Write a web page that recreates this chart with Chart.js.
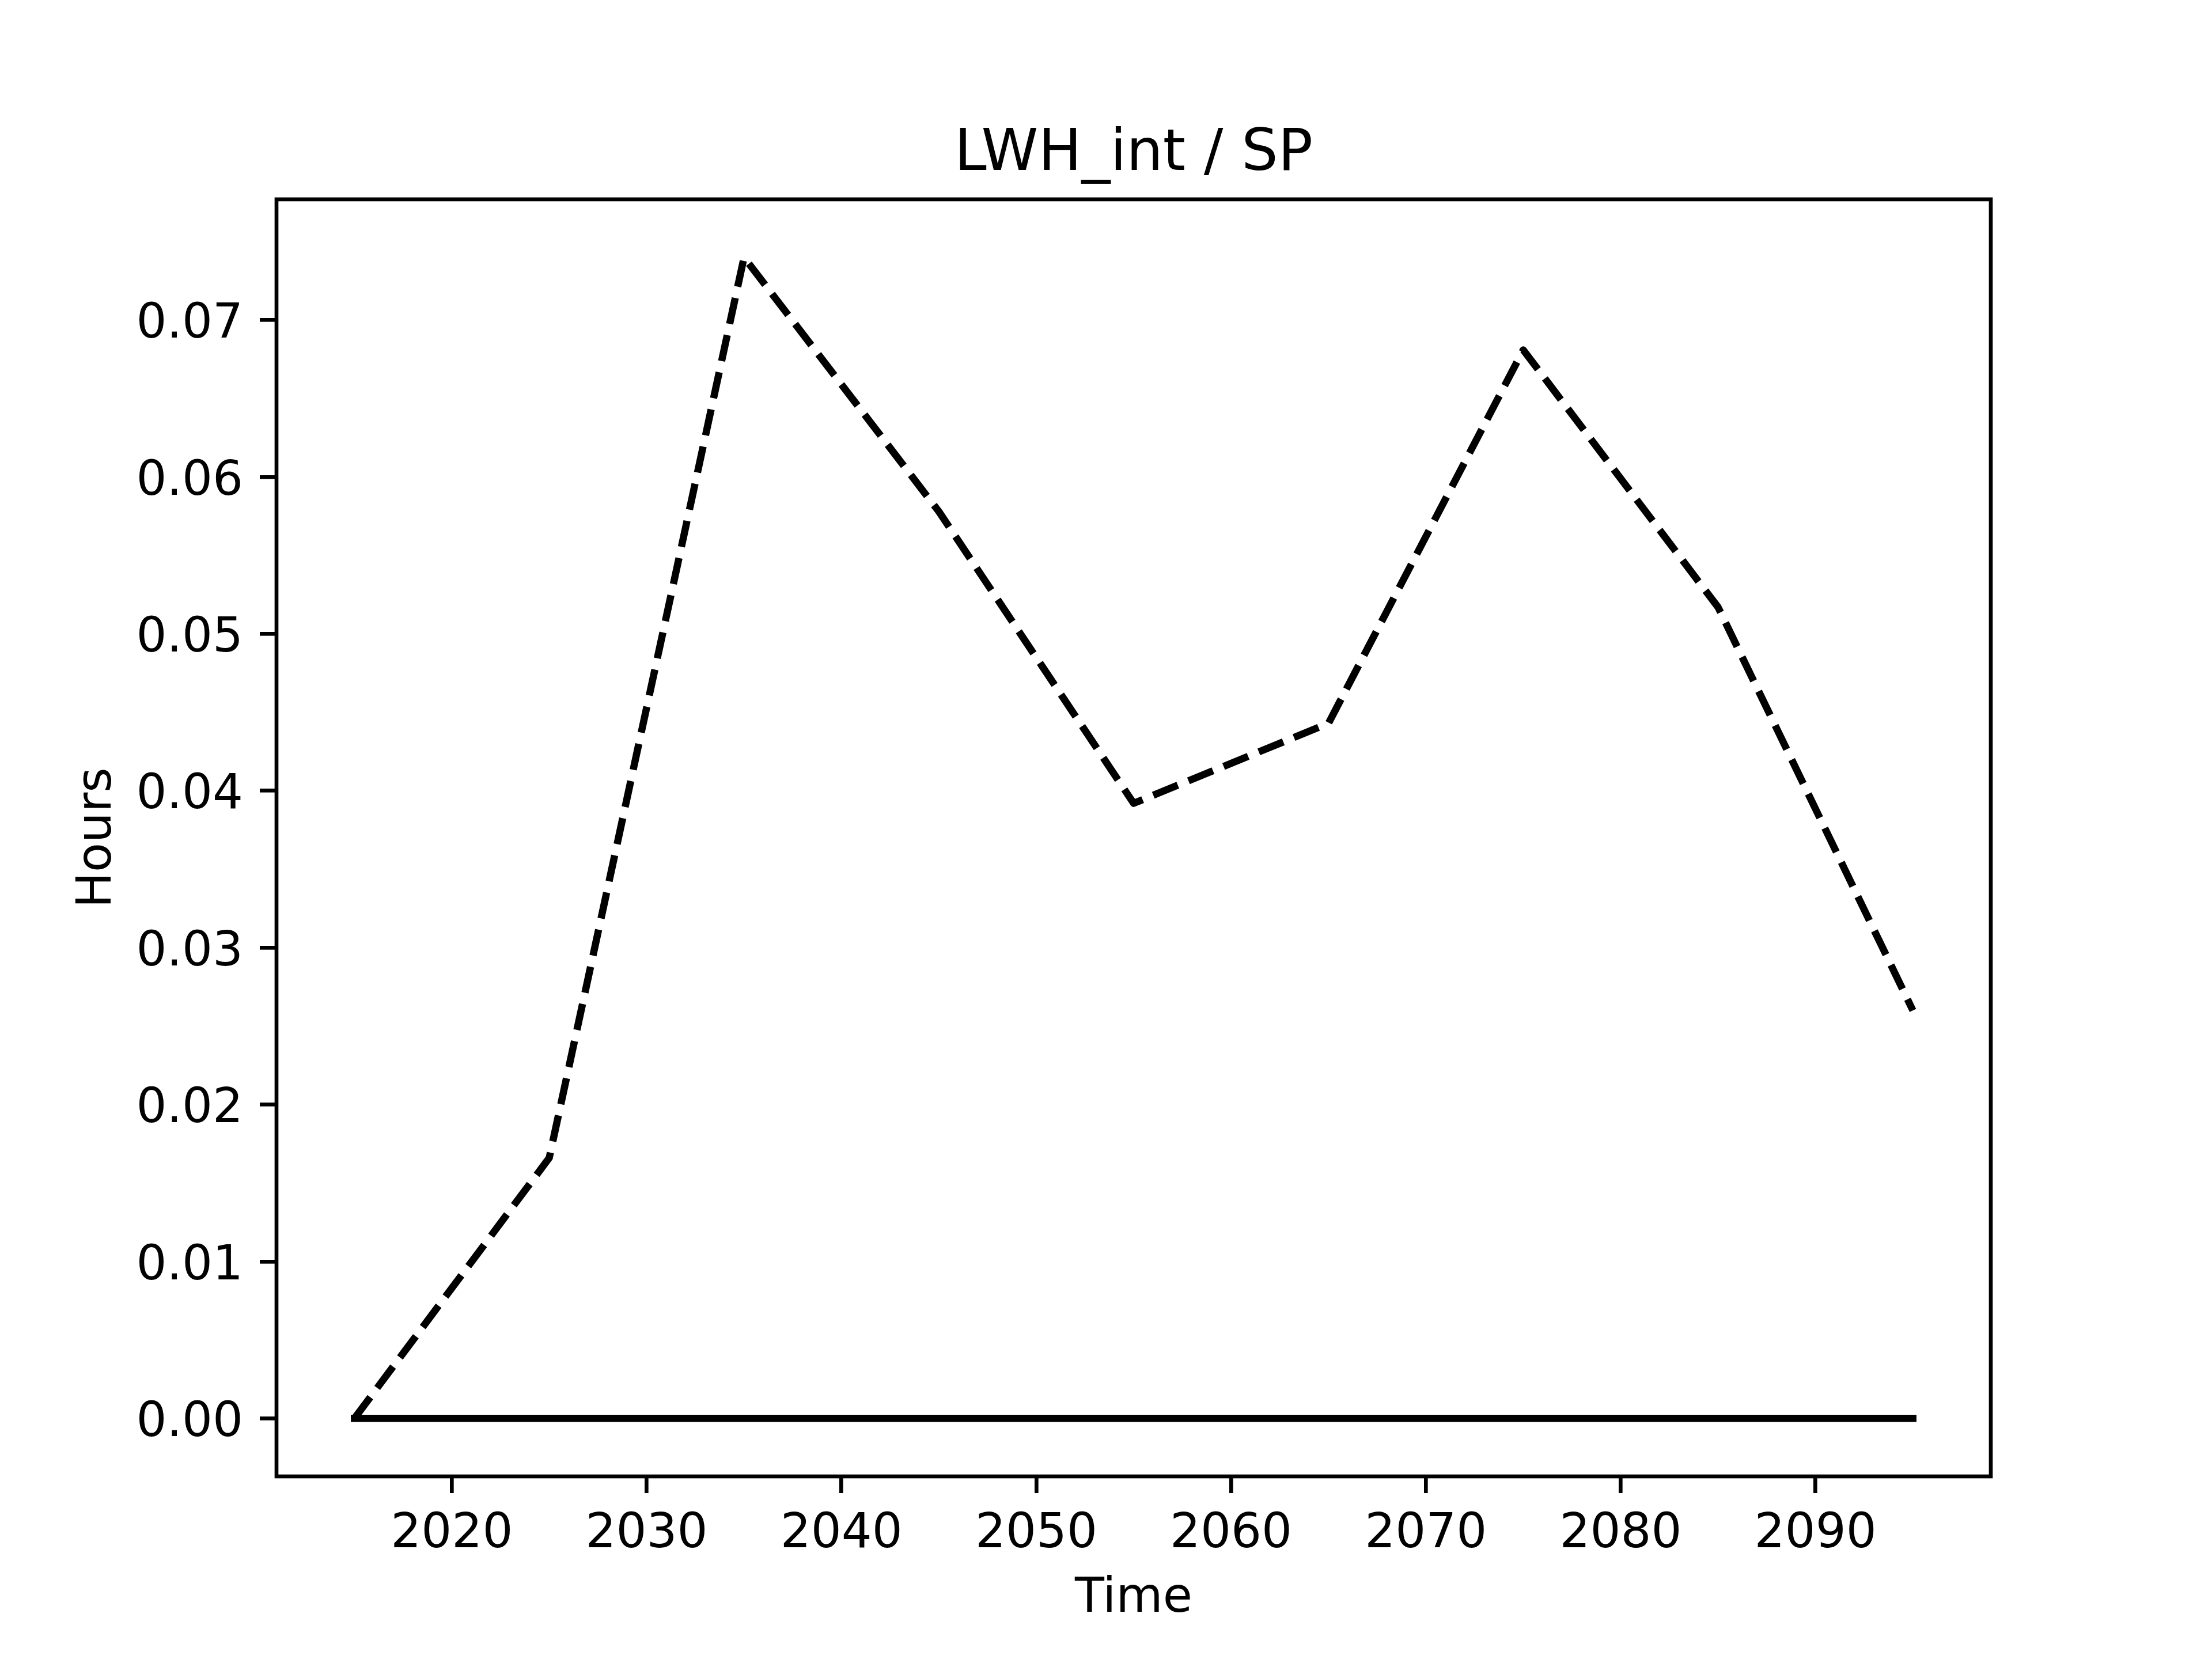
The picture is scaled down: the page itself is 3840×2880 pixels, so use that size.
<!DOCTYPE html>
<html><head><meta charset="utf-8">
<script src="https://cdn.jsdelivr.net/npm/chart.js@4/dist/chart.umd.min.js"></script>
<style>html,body{margin:0;padding:0;background:#fff}#wrap{width:3840px;height:2880px}</style>
</head><body><div id="wrap"><canvas id="c" width="3840" height="2880"></canvas></div>
<script>
const years = [2015, 2025, 2035, 2045, 2055, 2065, 2075, 2085, 2095];
const dashedValues = [0, 0.0166, 0.0740, 0.0578, 0.0392, 0.0443, 0.0681, 0.0517, 0.0260];
const solidValues = [0, 0, 0, 0, 0, 0, 0, 0, 0];
const xTickValues = [2020, 2030, 2040, 2050, 2060, 2070, 2080, 2090];
const xTickLabels = ['2020', '2030', '2040', '2050', '2060', '2070', '2080', '2090'];
const yTickValues = [0, 0.01, 0.02, 0.03, 0.04, 0.05, 0.06, 0.07];
const yTickLabels = ['0.00', '0.01', '0.02', '0.03', '0.04', '0.05', '0.06', '0.07'];
const titleText = 'LWH_int / SP';
const xTitleText = 'Time';
const yTitleText = 'Hours';

// matplotlib-like 5% margins around the data
const allY = dashedValues.concat(solidValues);
const xMinD = Math.min(...years), xMaxD = Math.max(...years);
const yMinD = Math.min(...allY), yMaxD = Math.max(...allY);
const xPad = (xMaxD - xMinD) * 0.05, yPad = (yMaxD - yMinD) * 0.05;

Chart.defaults.font.family = "'DejaVu Sans'";
Chart.defaults.color = '#000';

const FONT = 83.33;
const LW = 12.5;
const SPINE = 6.67;
const TICKLEN = 29;

const frame = {
  id: 'frame',
  afterDraw(chart) {
    const {ctx, chartArea: a} = chart;
    ctx.save();
    ctx.strokeStyle = '#000';
    ctx.lineWidth = SPINE;
    ctx.strokeRect(a.left, a.top, a.right - a.left, a.bottom - a.top);
    ctx.restore();
  }
};

new Chart(document.getElementById('c'), {
  type: 'line',
  data: {
    datasets: [
      {
        data: years.map((x, i) => ({x, y: dashedValues[i]})),
        borderColor: '#000', borderWidth: LW, borderDash: [46, 20],
        borderCapStyle: 'butt', borderJoinStyle: 'round',
        pointRadius: 0, fill: false, tension: 0
      },
      {
        data: years.map((x, i) => ({x, y: solidValues[i]})),
        borderColor: '#000', borderWidth: LW,
        borderCapStyle: 'square', borderJoinStyle: 'round',
        pointRadius: 0, fill: false, tension: 0
      }
    ]
  },
  options: {
    responsive: false, devicePixelRatio: 1, animation: false,
    layout: {padding: {left: 0, right: 384, top: 0, bottom: 0}},
    plugins: {
      legend: {display: false}, tooltip: {enabled: false},
      title: {display: true, fullSize: false, text: titleText, font: {size: 100, weight: 'normal'}, color: '#000', padding: {top: 209, bottom: 17}}
    },
    scales: {
      x: {
        type: 'linear', min: xMinD - xPad, max: xMaxD + xPad,
        afterBuildTicks: s => { s.ticks = xTickValues.map(v => ({value: v})); },
        afterFit: s => { s.height = 317; },
        ticks: {font: {size: FONT}, color: '#000', padding: 22, maxRotation: 0, autoSkip: false,
          callback: (v, i) => xTickLabels[i]},
        grid: {display: true, drawOnChartArea: false, drawTicks: true, tickLength: TICKLEN, tickWidth: SPINE, tickColor: '#000', lineWidth: SPINE, color: '#000'},
        border: {display: false},
        title: {display: true, text: xTitleText, font: {size: FONT}, color: '#000', padding: {top: 0, bottom: 54}}
      },
      y: {
        type: 'linear', min: yMinD - yPad, max: yMaxD + yPad,
        afterBuildTicks: s => { s.ticks = yTickValues.map(v => ({value: v})); },
        afterFit: s => { s.width = 480; },
        ticks: {font: {size: FONT}, color: '#000', padding: 29, labelOffset: 9, autoSkip: false,
          callback: (v, i) => yTickLabels[i]},
        grid: {display: true, drawOnChartArea: false, drawTicks: true, tickLength: TICKLEN, tickWidth: SPINE, tickColor: '#000', lineWidth: SPINE, color: '#000'},
        border: {display: false},
        title: {display: true, text: yTitleText, font: {size: FONT}, color: '#000', padding: {top: 120, bottom: 0}}
      }
    }
  },
  plugins: [frame]
});
</script></body></html>
